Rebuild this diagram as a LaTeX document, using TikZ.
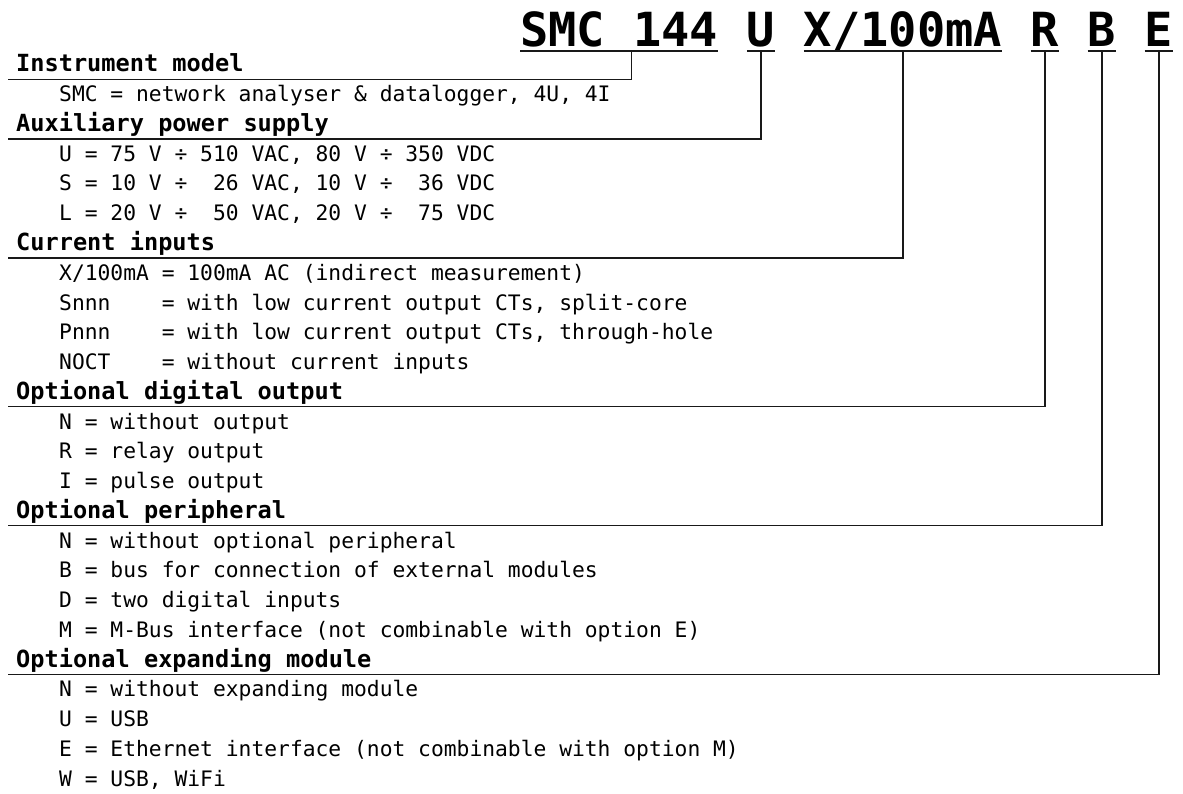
\documentclass[tikz,border=0pt]{standalone}
\usepackage{fontspec}
\usetikzlibrary{calc}
\newfontfamily\codefont{DejaVu Sans Mono}
\frenchspacing
\tikzset{
  rule/.style={line width=1.3pt, black!90},
  titletext/.style={font=\codefont\bfseries\fontsize{47}{47}\selectfont, inner sep=0pt, anchor=base west},
  headtext/.style={font=\codefont\bfseries\fontsize{23.6}{24}\selectfont, inner sep=0pt, anchor=base west},
  itemtext/.style={font=\codefont\fontsize{21.3}{22}\selectfont, inner sep=0pt, anchor=base west},
}
\begin{document}
\begin{tikzpicture}[x=1pt, y=-1pt]
    \useasboundingbox (0,0) rectangle (1183,794);
    % order code
    \node[titletext] (smc) at (520,47) {SMC~144};
    \node[titletext] (supply) at ([xshift=28.3pt]smc.base east) {U};
    \node[titletext] (current) at ([xshift=28.3pt]supply.base east) {X/100mA};
    \node[titletext] (dout) at ([xshift=28.3pt]current.base east) {R};
    \node[titletext] (peri) at ([xshift=28.3pt]dout.base east) {B};
    \node[titletext] (expm) at ([xshift=28.3pt]peri.base east) {E};
    \foreach \seg in {smc,supply,current,dout,peri,expm}{
        \draw[rule] ([yshift=-4pt]\seg.base west) -- ([yshift=-4pt]\seg.base east);
    }
    % group headings
    \foreach \txt/\k/\name in {Instrument model/0/hmodel, Auxiliary power supply/2/hsupply,
        Current inputs/6/hcurrent, Optional digital output/11/hdout,
        Optional peripheral/15/hperi, Optional expanding module/20/hexpm}{
        \node[headtext] (\name) at (16,72+29.75*\k) {\txt};
    }
    % options
    \node[itemtext] (imodel1) at (59,72+29.75) {SMC = network analyser \& datalogger, 4U, 4I};
    \foreach \txt [count=\k from 3] in {{U = 75 V ÷ 510 VAC, 80 V ÷ 350 VDC},
        {S = 10 V ÷~~26 VAC, 10 V ÷~~36 VDC}, {L = 20 V ÷~~50 VAC, 20 V ÷~~75 VDC}}{
        \node[itemtext] (isupply\k) at (59,72+29.75*\k) {\txt};
    }
    \foreach \txt [count=\k from 7] in {{X/100mA = 100mA AC (indirect measurement)},
        {Snnn~~~~= with low current output CTs, split-core},
        {Pnnn~~~~= with low current output CTs, through-hole},
        {NOCT~~~~= without current inputs}}{
        \node[itemtext] (icurrent\k) at (59,72+29.75*\k) {\txt};
    }
    \foreach \txt [count=\k from 12] in {N = without output, R = relay output, I = pulse output}{
        \node[itemtext] (idout\k) at (59,72+29.75*\k) {\txt};
    }
    \foreach \txt [count=\k from 16] in {N = without optional peripheral,
        B = bus for connection of external modules, D = two digital inputs,
        M = M-Bus interface (not combinable with option E)}{
        \node[itemtext] (iperi\k) at (59,72+29.75*\k) {\txt};
    }
    \foreach \txt [count=\k from 21] in {N = without expanding module, U = USB,
        E = Ethernet interface (not combinable with option M), {W = USB, WiFi}}{
        \node[itemtext] (iexpm\k) at (59,72+29.75*\k) {\txt};
    }
    % leaders
    \draw[rule] ($(smc.base west)!.56!(smc.base east)+(0,4)$) |- ([xshift=-8pt,yshift=-7.5pt]hmodel.base west);
    \foreach \seg/\head in {supply/hsupply, current/hcurrent, dout/hdout, peri/hperi, expm/hexpm}{
        \draw[rule] ($(\seg.base)+(0,4)$) |- ([xshift=-8pt,yshift=-7.5pt]\head.base west);
    }
\end{tikzpicture}
\end{document}
